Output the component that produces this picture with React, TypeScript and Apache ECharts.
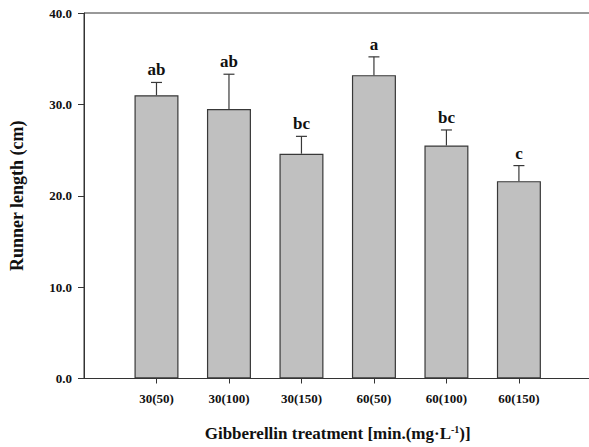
import React, { useEffect, useRef } from "react";
import * as echarts from "echarts";

const categories = ["30(50)", "30(100)", "30(150)", "60(50)", "60(100)", "60(150)"];
const values = [31.0, 29.5, 24.6, 33.2, 25.5, 21.6];
const errors = [1.4, 3.8, 1.9, 2.0, 1.7, 1.7];
const letters = ["ab", "ab", "bc", "a", "bc", "c"];
const yMin = 0;
const yMax = 40;
const yInterval = 10;

const FONT = '"Liberation Serif", "Times New Roman", serif';

export default function App() {
  const ref = useRef<HTMLDivElement>(null);
  useEffect(() => {
    document.body.style.margin = "0";
    const chart = echarts.init(ref.current!, null, { renderer: "svg" });
    const xData = ["", ...categories, ""];
    const barData = ["-", ...values, "-"];
    const errData = values.map((v, i) => [i + 1, v, errors[i], i]);
    chart.setOption({
      animation: false,
      backgroundColor: "#ffffff",
      grid: {
        left: 79,
        top: 13,
        right: 600 - 591.4,
        bottom: 447 - 381.7,
        show: true,
        borderColor: "#333333",
        borderWidth: 1,
        backgroundColor: "transparent",
      },
      xAxis: {
        type: "category",
        data: xData,
        boundaryGap: false,
        axisLine: { show: true, lineStyle: { color: "#333333", width: 1 } },
        axisTick: {
          show: true,
          length: 5,
          inside: false,
          interval: (idx: number) => idx > 0 && idx < xData.length - 1,
          lineStyle: { color: "#333333" },
        },
        axisLabel: {
          interval: 0,
          margin: 13,
          color: "#111111",
          fontFamily: FONT,
          fontWeight: "bold",
          fontSize: 13,
        },
        splitLine: { show: false },
        name: "Gibberellin treatment [min.(mg·L{sup|-1})]",
        nameLocation: "middle",
        nameGap: 46,
        nameTextStyle: {
          color: "#111111",
          fontFamily: FONT,
          fontWeight: "bold",
          fontSize: 17,
          rich: {
            sup: {
              fontFamily: FONT,
              fontWeight: "bold",
              fontSize: 10,
              color: "#111111",
              verticalAlign: "top",
              padding: [0, 0, 8, 0],
            },
          },
        },
      },
      yAxis: {
        type: "value",
        min: yMin,
        max: yMax,
        interval: yInterval,
        axisLine: { show: true, lineStyle: { color: "#333333", width: 1 } },
        axisTick: { show: true, length: 6, inside: false, lineStyle: { color: "#333333" } },
        axisLabel: {
          margin: 12,
          color: "#111111",
          fontFamily: FONT,
          fontWeight: "bold",
          fontSize: 13,
          formatter: (v: number) => v.toFixed(1),
        },
        splitLine: { show: false },
        name: "Runner length (cm)",
        nameLocation: "middle",
        nameRotate: 90,
        nameGap: 58,
        nameTextStyle: {
          color: "#111111",
          fontFamily: FONT,
          fontWeight: "bold",
          fontSize: 18,
        },
      },
      series: [
        {
          type: "bar",
          data: barData,
          barWidth: 44,
          itemStyle: { color: "#c0c0c0", borderColor: "#383838", borderWidth: 1.2 },
        },
        {
          type: "custom",
          data: errData,
          encode: { x: 0, y: 1 },
          z: 5,
          renderItem: (params: any, api: any) => {
            const xi = api.value(0);
            const v = api.value(1);
            const e = api.value(2);
            const idx = api.value(3);
            const base = api.coord([xi, v]);
            const top = api.coord([xi, v + e]);
            const half = 5.5;
            const stroke = { stroke: "#383838", lineWidth: 1.2 };
            return {
              type: "group",
              children: [
                { type: "line", shape: { x1: base[0], y1: base[1], x2: top[0], y2: top[1] }, style: stroke },
                { type: "line", shape: { x1: top[0] - half, y1: top[1], x2: top[0] + half, y2: top[1] }, style: stroke },
                {
                  type: "text",
                  x: top[0],
                  y: top[1] - 4,
                  style: {
                    text: letters[idx],
                    fill: "#111111",
                    fontFamily: FONT,
                    fontWeight: "bold",
                    fontSize: 17,
                    align: "center",
                    verticalAlign: "bottom",
                  },
                },
              ],
            };
          },
        },
      ],
    });
    return () => chart.dispose();
  }, []);
  return (
    <div style={{ width: 589, height: 447, overflow: "hidden", position: "relative" }}>
      <div ref={ref} style={{ width: 600, height: 447 }} />
    </div>
  );
}
